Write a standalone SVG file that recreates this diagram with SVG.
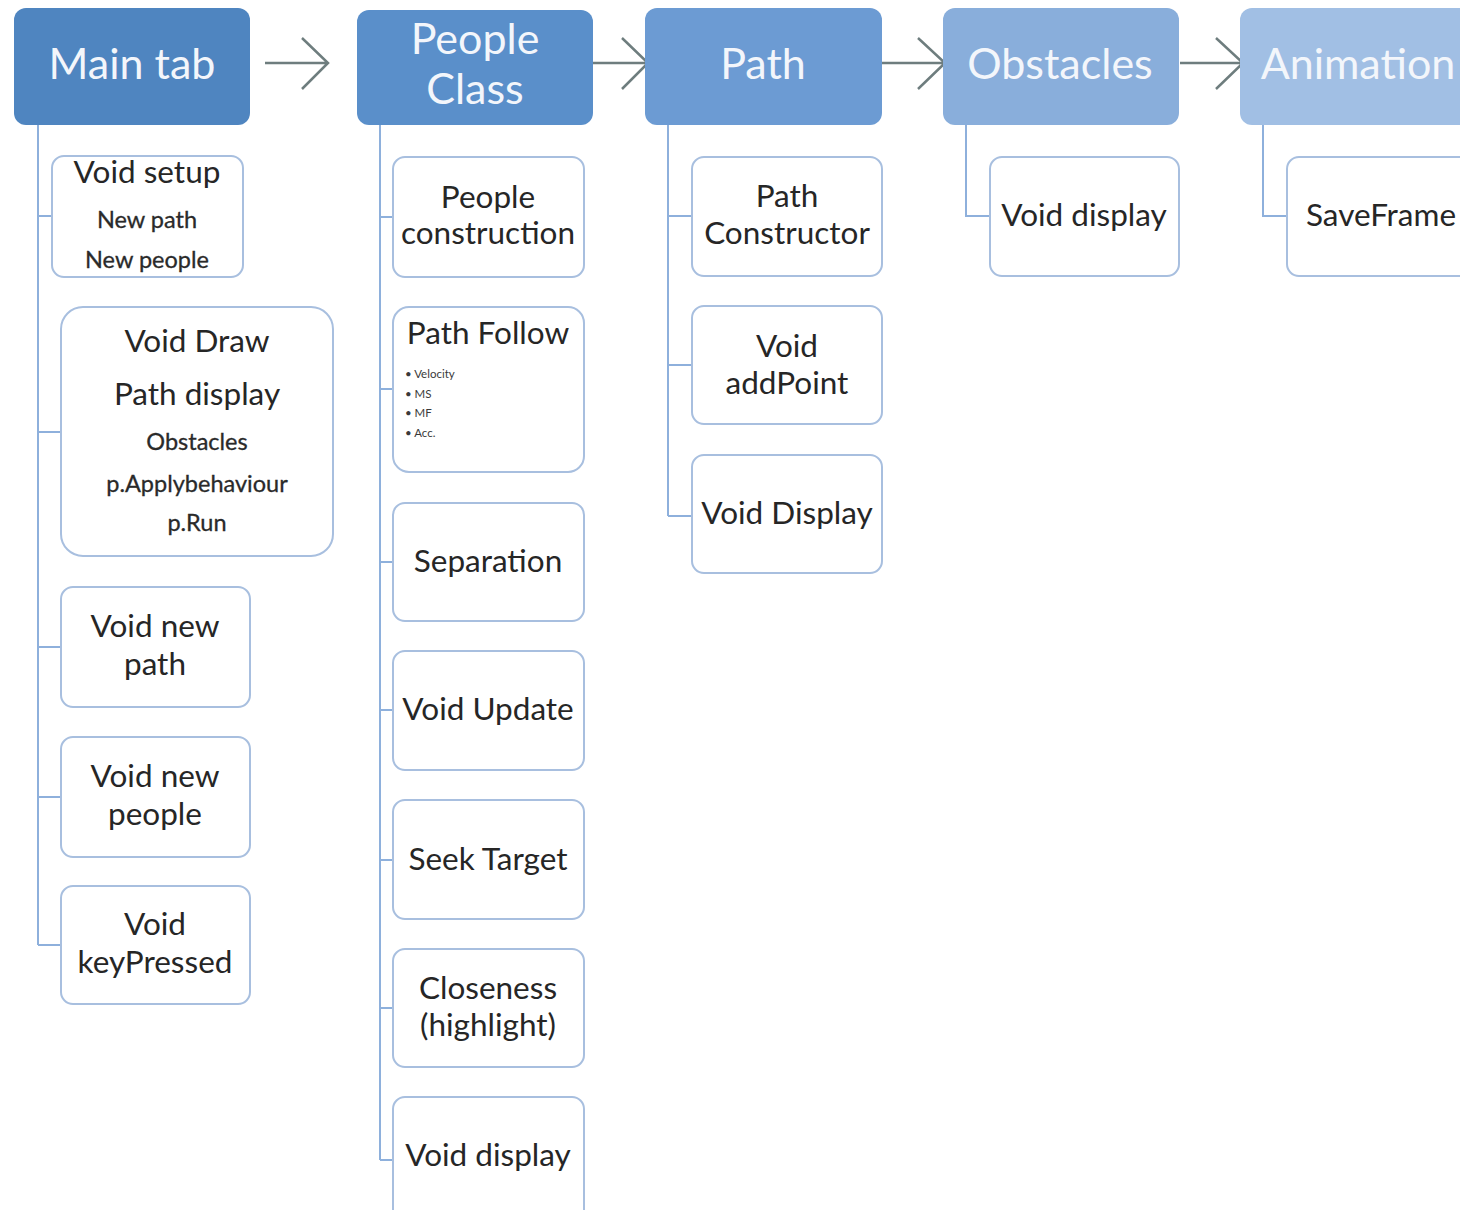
<svg xmlns="http://www.w3.org/2000/svg" width="1460" height="1210" viewBox="0 0 1460 1210">
<style>
.hdr{stroke:none}
.hdr-t{font-family:Lato,"Open Sans","Liberation Sans",sans-serif;font-size:43px;fill:#f3f6fb;text-anchor:middle}
.box{fill:#ffffff;stroke:#a8bfdf;stroke-width:2}
.t{font-family:Lato,"Open Sans","Liberation Sans",sans-serif;font-size:31.5px;fill:#262626;text-anchor:middle}
.s{font-family:Lato,"Open Sans","Liberation Sans",sans-serif;font-size:23.5px;fill:#2a2a2a;text-anchor:middle;stroke:#2a2a2a;stroke-width:0.3}
.b{font-family:Lato,"Open Sans","Liberation Sans",sans-serif;font-size:11.5px;fill:#3a3a3a}
.con{fill:none;stroke:#8eb0dc;stroke-width:2}
.arr{fill:none;stroke:#6e7d7e;stroke-width:2.5}
</style>
<rect width="1460" height="1210" fill="#ffffff"/>
<g id="connectors">
  <path class="con" d="M38 125 V945 M38 216 H52 M38 432 H61 M38 647 H61 M38 797 H61 M38 945 H61"/>
  <path class="con" d="M380 125 V1160 M380 217 H393 M380 389 H393 M380 562 H393 M380 710 H393 M380 860 H393 M380 1008 H393 M380 1160 H393"/>
  <path class="con" d="M668 125 V516 M668 216 H692 M668 365 H692 M668 516 H692"/>
  <path class="con" d="M966 125 V216 H990"/>
  <path class="con" d="M1263 125 V216 H1287"/>
  <path class="arr" d="M265 63 H328 M302 38 L328 63 L302 89"/>
  <path class="arr" d="M593 63 H648 M622 38 L648 63 L622 89"/>
  <path class="arr" d="M882 63 H945 M918 38 L945 63 L918 89"/>
  <path class="arr" d="M1180 63 H1243 M1216 38 L1243 63 L1216 89"/>
</g>
<g id="main-tab"><rect class="hdr" x="14" y="8" width="236" height="117" rx="12" fill="#4f85c0"/><text class="hdr-t" x="132" y="79">Main tab</text></g>
<g id="people-class"><rect class="hdr" x="357" y="10" width="236" height="115" rx="12" fill="#5a8fca"/><text class="hdr-t" x="475" y="54">People</text><text class="hdr-t" x="475" y="104">Class</text></g>
<g id="path"><rect class="hdr" x="645" y="8" width="237" height="117" rx="12" fill="#6c9bd3"/><text class="hdr-t" x="763" y="79">Path</text></g>
<g id="obstacles"><rect class="hdr" x="943" y="8" width="236" height="117" rx="12" fill="#89aedb"/><text class="hdr-t" x="1060" y="79">Obstacles</text></g>
<g id="animation"><rect class="hdr" x="1240" y="8" width="240" height="117" rx="12" fill="#a1bfe4"/><text class="hdr-t" x="1358" y="79">Animation</text></g>

<g id="void-setup"><rect class="box" x="52" y="156" width="191" height="121" rx="12"/><text class="t" x="147" y="183">Void setup</text><text class="s" x="147" y="228">New path</text><text class="s" x="147" y="268">New people</text></g>
<g id="void-draw"><rect class="box" x="61" y="307" width="272" height="249" rx="22"/><text class="t" x="197" y="352">Void Draw</text><text class="t" x="197" y="405">Path display</text><text class="s" x="197" y="450">Obstacles</text><text class="s" x="197" y="492">p.Applybehaviour</text><text class="s" x="197" y="531">p.Run</text></g>
<g id="void-new-path"><rect class="box" x="61" y="587" width="189" height="120" rx="12"/><text class="t" x="155" y="637">Void new</text><text class="t" x="155" y="675">path</text></g>
<g id="void-new-people"><rect class="box" x="61" y="737" width="189" height="120" rx="12"/><text class="t" x="155" y="787">Void new</text><text class="t" x="155" y="825">people</text></g>
<g id="void-keypressed"><rect class="box" x="61" y="886" width="189" height="118" rx="12"/><text class="t" x="155" y="935">Void</text><text class="t" x="155" y="973">keyPressed</text></g>

<g id="people-construction"><rect class="box" x="393" y="157" width="191" height="120" rx="12"/><text class="t" x="488" y="208">People</text><text class="t" x="488" y="244">construction</text></g>
<g id="path-follow"><rect class="box" x="393" y="307" width="191" height="165" rx="16"/><text class="t" x="488" y="344">Path Follow</text><text class="b" x="405" y="378">• Velocity</text><text class="b" x="405" y="398">• MS</text><text class="b" x="405" y="417">• MF</text><text class="b" x="405" y="437">• Acc.</text></g>
<g id="separation"><rect class="box" x="393" y="503" width="191" height="118" rx="12"/><text class="t" x="488" y="572">Separation</text></g>
<g id="void-update"><rect class="box" x="393" y="651" width="191" height="119" rx="12"/><text class="t" x="488" y="720">Void Update</text></g>
<g id="seek-target"><rect class="box" x="393" y="800" width="191" height="119" rx="12"/><text class="t" x="488" y="870">Seek Target</text></g>
<g id="closeness"><rect class="box" x="393" y="949" width="191" height="118" rx="12"/><text class="t" x="488" y="999">Closeness</text><text class="t" x="488" y="1036">(highlight)</text></g>
<g id="people-void-display"><rect class="box" x="393" y="1097" width="191" height="130" rx="12"/><text class="t" x="488" y="1166">Void display</text></g>

<g id="path-constructor"><rect class="box" x="692" y="157" width="190" height="119" rx="12"/><text class="t" x="787" y="207">Path</text><text class="t" x="787" y="244">Constructor</text></g>
<g id="void-addpoint"><rect class="box" x="692" y="306" width="190" height="118" rx="12"/><text class="t" x="787" y="357">Void</text><text class="t" x="787" y="394">addPoint</text></g>
<g id="path-void-display"><rect class="box" x="692" y="455" width="190" height="118" rx="12"/><text class="t" x="787" y="524">Void Display</text></g>

<g id="obstacles-void-display"><rect class="box" x="990" y="157" width="189" height="119" rx="12"/><text class="t" x="1084" y="226">Void display</text></g>
<g id="saveframe"><rect class="box" x="1287" y="157" width="190" height="119" rx="12"/><text class="t" x="1381" y="226">SaveFrame</text></g>
</svg>
